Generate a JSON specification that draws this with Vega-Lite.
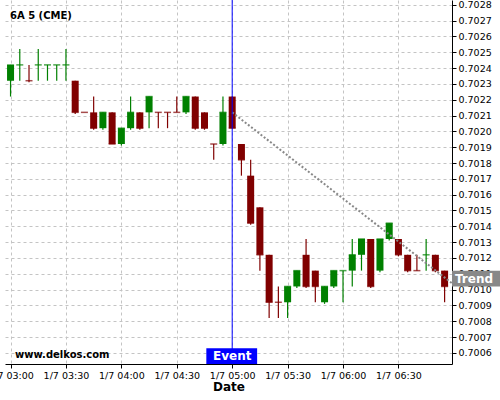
{
  "$schema": "https://vega.github.io/schema/vega-lite/v6.json",
  "width": 447,
  "height": 364,
  "autosize": "none",
  "padding": {"left": 5, "top": 0, "right": 48, "bottom": 36},
  "background": "white",
  "config": {"view": {"stroke": null}, "font": "DejaVu Sans"},
  "title": {"text": "6A 5 (CME)", "anchor": "start", "frame": "group", "offset": -21, "dx": 5, "fontSize": 10, "fontWeight": "bold", "color": "#000"},
  "data": {"values": [
    {"t": "2024-01-07T03:00:00", "o": 0.70232, "h": 0.70242, "l": 0.70222, "c": 0.70242, "d": "up"},
    {"t": "2024-01-07T03:05:00", "o": 0.70242, "h": 0.70252, "l": 0.70232, "c": 0.70242, "d": "up"},
    {"t": "2024-01-07T03:10:00", "o": 0.70232, "h": 0.70242, "l": 0.70231, "c": 0.70232, "d": "down"},
    {"t": "2024-01-07T03:15:00", "o": 0.70242, "h": 0.70252, "l": 0.70232, "c": 0.70242, "d": "up"},
    {"t": "2024-01-07T03:20:00", "o": 0.70242, "h": 0.70242, "l": 0.70232, "c": 0.70242, "d": "up"},
    {"t": "2024-01-07T03:25:00", "o": 0.70242, "h": 0.70242, "l": 0.70232, "c": 0.70242, "d": "up"},
    {"t": "2024-01-07T03:30:00", "o": 0.70242, "h": 0.70252, "l": 0.70232, "c": 0.70242, "d": "up"},
    {"t": "2024-01-07T03:35:00", "o": 0.70232, "h": 0.70232, "l": 0.70211, "c": 0.70212, "d": "down"},
    {"t": "2024-01-07T03:40:00", "o": 0.70212, "h": 0.70212, "l": 0.70212, "c": 0.70212, "d": "down"},
    {"t": "2024-01-07T03:45:00", "o": 0.70212, "h": 0.70222, "l": 0.70201, "c": 0.70202, "d": "down"},
    {"t": "2024-01-07T03:50:00", "o": 0.70202, "h": 0.70212, "l": 0.70201, "c": 0.70212, "d": "up"},
    {"t": "2024-01-07T03:55:00", "o": 0.70212, "h": 0.70212, "l": 0.70192, "c": 0.70192, "d": "down"},
    {"t": "2024-01-07T04:00:00", "o": 0.70192, "h": 0.70202, "l": 0.70191, "c": 0.70202, "d": "up"},
    {"t": "2024-01-07T04:05:00", "o": 0.70202, "h": 0.70222, "l": 0.70201, "c": 0.70212, "d": "up"},
    {"t": "2024-01-07T04:10:00", "o": 0.70212, "h": 0.70212, "l": 0.70201, "c": 0.70202, "d": "down"},
    {"t": "2024-01-07T04:15:00", "o": 0.70212, "h": 0.70222, "l": 0.70202, "c": 0.70222, "d": "up"},
    {"t": "2024-01-07T04:20:00", "o": 0.70212, "h": 0.70212, "l": 0.70202, "c": 0.70212, "d": "down"},
    {"t": "2024-01-07T04:25:00", "o": 0.70212, "h": 0.70212, "l": 0.70202, "c": 0.70212, "d": "down"},
    {"t": "2024-01-07T04:30:00", "o": 0.70212, "h": 0.70222, "l": 0.70212, "c": 0.70212, "d": "down"},
    {"t": "2024-01-07T04:35:00", "o": 0.70212, "h": 0.70222, "l": 0.70211, "c": 0.70222, "d": "up"},
    {"t": "2024-01-07T04:40:00", "o": 0.70222, "h": 0.70222, "l": 0.70201, "c": 0.70202, "d": "down"},
    {"t": "2024-01-07T04:45:00", "o": 0.70212, "h": 0.70212, "l": 0.70201, "c": 0.70202, "d": "down"},
    {"t": "2024-01-07T04:50:00", "o": 0.70192, "h": 0.70192, "l": 0.70182, "c": 0.70192, "d": "down"},
    {"t": "2024-01-07T04:55:00", "o": 0.70192, "h": 0.70222, "l": 0.70191, "c": 0.70212, "d": "up"},
    {"t": "2024-01-07T05:00:00", "o": 0.70222, "h": 0.70222, "l": 0.70202, "c": 0.70202, "d": "down"},
    {"t": "2024-01-07T05:05:00", "o": 0.70192, "h": 0.70192, "l": 0.70172, "c": 0.70182, "d": "down"},
    {"t": "2024-01-07T05:10:00", "o": 0.70172, "h": 0.70182, "l": 0.70141, "c": 0.70142, "d": "down"},
    {"t": "2024-01-07T05:15:00", "o": 0.70152, "h": 0.70152, "l": 0.70112, "c": 0.70122, "d": "down"},
    {"t": "2024-01-07T05:20:00", "o": 0.70122, "h": 0.70122, "l": 0.70082, "c": 0.70092, "d": "down"},
    {"t": "2024-01-07T05:25:00", "o": 0.70092, "h": 0.70102, "l": 0.70082, "c": 0.70092, "d": "down"},
    {"t": "2024-01-07T05:30:00", "o": 0.70092, "h": 0.70102, "l": 0.70082, "c": 0.70102, "d": "up"},
    {"t": "2024-01-07T05:35:00", "o": 0.70102, "h": 0.70112, "l": 0.70101, "c": 0.70112, "d": "up"},
    {"t": "2024-01-07T05:40:00", "o": 0.70122, "h": 0.70132, "l": 0.70101, "c": 0.70102, "d": "down"},
    {"t": "2024-01-07T05:45:00", "o": 0.70112, "h": 0.70112, "l": 0.70092, "c": 0.70102, "d": "down"},
    {"t": "2024-01-07T05:50:00", "o": 0.70092, "h": 0.70102, "l": 0.70091, "c": 0.70102, "d": "up"},
    {"t": "2024-01-07T05:55:00", "o": 0.70102, "h": 0.70112, "l": 0.70101, "c": 0.70112, "d": "up"},
    {"t": "2024-01-07T06:00:00", "o": 0.70112, "h": 0.70112, "l": 0.70092, "c": 0.70112, "d": "up"},
    {"t": "2024-01-07T06:05:00", "o": 0.70112, "h": 0.70132, "l": 0.70102, "c": 0.70122, "d": "up"},
    {"t": "2024-01-07T06:10:00", "o": 0.70122, "h": 0.70132, "l": 0.70112, "c": 0.70132, "d": "up"},
    {"t": "2024-01-07T06:15:00", "o": 0.70132, "h": 0.70132, "l": 0.70101, "c": 0.70102, "d": "down"},
    {"t": "2024-01-07T06:20:00", "o": 0.70112, "h": 0.70132, "l": 0.70111, "c": 0.70132, "d": "up"},
    {"t": "2024-01-07T06:25:00", "o": 0.70132, "h": 0.70142, "l": 0.70131, "c": 0.70142, "d": "up"},
    {"t": "2024-01-07T06:30:00", "o": 0.70132, "h": 0.70132, "l": 0.70121, "c": 0.70122, "d": "down"},
    {"t": "2024-01-07T06:35:00", "o": 0.70122, "h": 0.70122, "l": 0.70111, "c": 0.70112, "d": "down"},
    {"t": "2024-01-07T06:40:00", "o": 0.70112, "h": 0.70122, "l": 0.70112, "c": 0.70112, "d": "down"},
    {"t": "2024-01-07T06:45:00", "o": 0.70122, "h": 0.70132, "l": 0.70112, "c": 0.70122, "d": "up"},
    {"t": "2024-01-07T06:50:00", "o": 0.70122, "h": 0.70122, "l": 0.70111, "c": 0.70112, "d": "down"},
    {"t": "2024-01-07T06:55:00", "o": 0.70112, "h": 0.70112, "l": 0.70092, "c": 0.70102, "d": "down"}
  ]},
  "layer": [
    {
      "mark": {"type": "rule", "strokeWidth": 1.2},
      "encoding": {
        "x": {"field": "t", "type": "temporal",
          "scale": {"nice": false, "padding": 0, "domain": [{"year": 2024, "month": 1, "date": 7, "hours": 2, "minutes": 57}, {"year": 2024, "month": 1, "date": 7, "hours": 6, "minutes": 59}]},
          "axis": {"title": "Date", "titleFontSize": 12, "titleFontWeight": "bold", "titleColor": "#000", "titlePadding": 2,
            "format": "%-m/%-d %H:%M",
            "values": [
              {"year": 2024, "month": 1, "date": 7, "hours": 3, "minutes": 0},
              {"year": 2024, "month": 1, "date": 7, "hours": 3, "minutes": 30},
              {"year": 2024, "month": 1, "date": 7, "hours": 4, "minutes": 0},
              {"year": 2024, "month": 1, "date": 7, "hours": 4, "minutes": 30},
              {"year": 2024, "month": 1, "date": 7, "hours": 5, "minutes": 0},
              {"year": 2024, "month": 1, "date": 7, "hours": 5, "minutes": 30},
              {"year": 2024, "month": 1, "date": 7, "hours": 6, "minutes": 0},
              {"year": 2024, "month": 1, "date": 7, "hours": 6, "minutes": 30}
            ],
            "labelOverlap": false, "labelFlush": false, "labelBound": false,
            "labelFontSize": 9.5, "labelColor": "#000", "labelPadding": 2,
            "domainColor": "#000", "domainWidth": 1,
            "tickColor": "#000", "tickSize": 4,
            "grid": true, "gridColor": "#c4c4c4", "gridDash": [3, 3]}},
        "y": {"field": "l", "type": "quantitative",
          "scale": {"domain": [0.70053, 0.70283], "nice": false, "zero": false},
          "axis": {"orient": "right", "title": null, "tickCount": 23, "format": ".4f",
            "labelOverlap": false, "labelFlush": false, "labelBound": false,
            "labelFontSize": 9.5, "labelColor": "#000", "labelPadding": 2,
            "domainColor": "#000", "domainWidth": 1, "tickColor": "#000", "tickSize": 4,
            "grid": true, "gridColor": "#c4c4c4", "gridDash": [3, 3]}},
        "y2": {"field": "h"},
        "color": {"field": "d", "type": "nominal", "scale": {"domain": ["up", "down"], "range": ["#008000", "#800000"]}, "legend": null}
      }
    },
    {
      "mark": {"type": "bar", "size": 7},
      "encoding": {
        "x": {"field": "t", "type": "temporal"},
        "y": {"field": "o", "type": "quantitative"},
        "y2": {"field": "c"},
        "color": {"field": "d", "type": "nominal", "legend": null}
      }
    },
    {
      "mark": {"type": "tick", "orient": "horizontal", "size": 7, "thickness": 1.5},
      "encoding": {
        "x": {"field": "t", "type": "temporal"},
        "y": {"field": "c", "type": "quantitative"},
        "color": {"field": "d", "type": "nominal", "legend": null}
      }
    },
    {
      "data": {"values": [{"ts": "2024-01-07T05:00:00", "vs": 0.70212, "te": "2024-01-07T06:59:00", "ve": 0.70104}]},
      "mark": {"type": "rule", "color": "#888888", "strokeWidth": 2, "strokeDash": [2, 2]},
      "encoding": {
        "x": {"field": "ts", "type": "temporal"},
        "x2": {"field": "te"},
        "y": {"field": "vs", "type": "quantitative"},
        "y2": {"field": "ve"}
      }
    },
    {
      "data": {"values": [{"ts": "2024-01-07T05:00:00"}]},
      "mark": {"type": "rule", "color": "#0000ff", "strokeWidth": 1},
      "encoding": {
        "x": {"field": "ts", "type": "temporal"}
      }
    },
    {
      "data": {"values": [{"label": "Event", "xa": "2024-01-07T04:46:00", "xb": "2024-01-07T05:13:30", "xm": "2024-01-07T05:00:00", "ya": 0.70053, "yb": 0.70063, "ym": 0.70058}]},
      "layer": [
        {
          "mark": {"type": "rect", "color": "#0000ff"},
          "encoding": {
            "x": {"field": "xa", "type": "temporal"},
            "x2": {"field": "xb"},
            "y": {"field": "ya", "type": "quantitative"},
            "y2": {"field": "yb"}
          }
        },
        {
          "mark": {"type": "text", "color": "#ffffff", "fontSize": 12, "fontWeight": "bold", "baseline": "middle", "align": "center"},
          "encoding": {
            "x": {"field": "xm", "type": "temporal"},
            "y": {"field": "ym", "type": "quantitative"},
            "text": {"field": "label"}
          }
        }
      ]
    },
    {
      "data": {"values": [{"label": "Trend", "xa": "2024-01-07T06:59:00", "xb": "2024-01-07T07:25:00", "ya": 0.70102, "yb": 0.70112, "ym": 0.70107}]},
      "layer": [
        {
          "mark": {"type": "rect", "color": "#888888"},
          "encoding": {
            "x": {"field": "xa", "type": "temporal"},
            "x2": {"field": "xb"},
            "y": {"field": "ya", "type": "quantitative"},
            "y2": {"field": "yb"}
          }
        },
        {
          "mark": {"type": "text", "color": "#ffffff", "fontSize": 12, "fontWeight": "bold", "baseline": "middle", "align": "left", "dx": 3},
          "encoding": {
            "x": {"field": "xa", "type": "temporal"},
            "y": {"field": "ym", "type": "quantitative"},
            "text": {"field": "label"}
          }
        }
      ]
    },
    {
      "data": {"values": [{"label": "www.delkos.com", "x": "2024-01-07T03:02:25", "y": 0.70059}]},
      "mark": {"type": "text", "color": "#000000", "fontSize": 10, "fontWeight": "bold", "baseline": "middle", "align": "left"},
      "encoding": {
        "x": {"field": "x", "type": "temporal"},
        "y": {"field": "y", "type": "quantitative"},
        "text": {"field": "label"}
      }
    }
  ]
}
